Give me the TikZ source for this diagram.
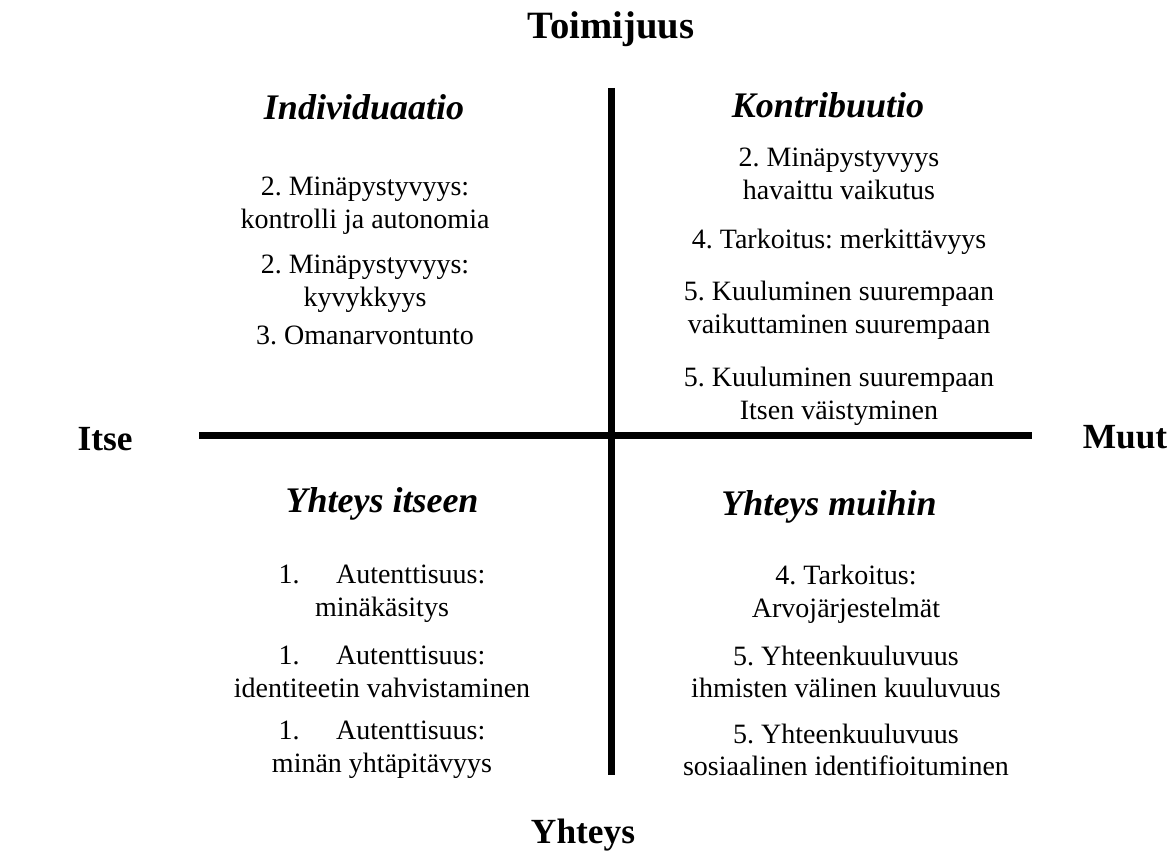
\documentclass[tikz,border=0pt]{standalone}
\usepackage{fontspec}
\setmainfont{Liberation Serif}
\frenchspacing
\begin{document}
\begin{tikzpicture}[x=0.75pt,y=-0.75pt,
  axis/.style={line width=5pt},
  axlabel/.style={font=\fontsize{26.5}{30}\selectfont\bfseries, inner sep=0pt},
  qtitle/.style={font=\fontsize{27}{31}\selectfont\bfseries\itshape, inner sep=0pt},
  item/.style={font=\fontsize{21}{24.6}\selectfont\frenchspacing, align=center, inner sep=0pt}]
\useasboundingbox (0,0) rectangle (1176,859);
% axes
\coordinate (vtop) at (611.5,88);
\coordinate (vbot) at (611.5,775);
\coordinate (hl) at (199,435.5);
\coordinate (hr) at (1032,435.5);
\draw[axis] (vtop) -- (vbot);
\draw[axis] (hl) -- (hr);
% axis labels
\node[axlabel, font=\fontsize{29}{33}\selectfont\bfseries] (toim) at (611,29) {Toimijuus};
\node[axlabel] (itse) at (105,439) {Itse};
\node[axlabel] (muut) at (1125,437) {Muut};
\node[axlabel] (yht) at (583,835) {Yhteys};
% quadrant titles
\node[qtitle] (ind) at (364,107) {Individuaatio};
\node[qtitle] (kon) at (828,105) {Kontribuutio};
\node[qtitle] (yit) at (382,504) {Yhteys itseen};
\node[qtitle] (ymu) at (829,507) {Yhteys muihin};
% top-left items
\node[item] (tl1) at (365,206) {2. Minäpystyvyys:\\kontrolli ja autonomia};
\node[item] (tl2) at (365,284) {2. Minäpystyvyys:\\kyvykkyys};
\node[item] (tl3) at (365,335) {3. Omanarvontunto};
% top-right items
\node[item] (tr1) at (839,174) {2. Minäpystyvyys\\havaittu vaikutus};
\node[item] (tr2) at (839,242) {4. Tarkoitus: merkittävyys};
\node[item] (tr3) at (839,310) {5. Kuuluminen suurempaan\\vaikuttaminen suurempaan};
\node[item] (tr4) at (839,396) {5. Kuuluminen suurempaan\\Itsen väistyminen};
% bottom-left items
\node[item] (bl1) at (382,594) {1.\hspace{1.3em}Autenttisuus:\\minäkäsitys};
\node[item] (bl2) at (382,672) {1.\hspace{1.3em}Autenttisuus:\\identiteetin vahvistaminen};
\node[item] (bl3) at (382,750) {1.\hspace{1.3em}Autenttisuus:\\minän yhtäpitävyys};
% bottom-right items
\node[item] (br1) at (846,594) {4. Tarkoitus:\\Arvojärjestelmät};
\node[item] (br2) at (846,672) {5. Yhteenkuuluvuus\\ihmisten välinen kuuluvuus};
\node[item] (br3) at (846,750) {5. Yhteenkuuluvuus\\sosiaalinen identifioituminen};
\end{tikzpicture}
\end{document}
